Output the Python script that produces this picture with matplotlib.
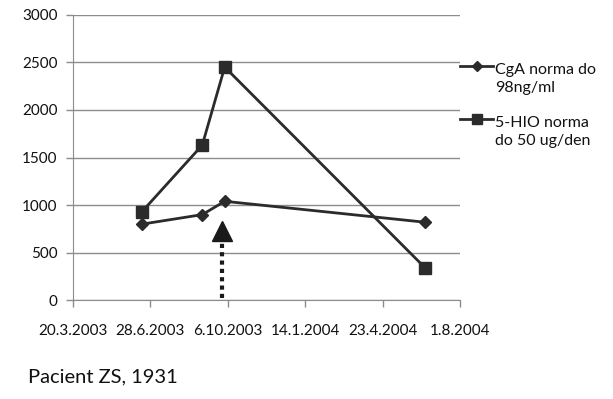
import matplotlib
matplotlib.use('Agg')
import matplotlib.pyplot as plt
from matplotlib.lines import Line2D
import pandas as pd

# Daten
datumy = pd.to_datetime(['2003-06-17', '2003-09-03', '2003-10-02', '2004-06-17'])
cga = [800, 900, 1040, 820]
hio = [930, 1630, 2450, 340]
labels = ['CgA norma do\n98ng/ml', '5-HIO norma\ndo 50 ug/den']

tick_dates = pd.to_datetime(['2003-03-20', '2003-06-28', '2003-10-06',
                             '2004-01-14', '2004-04-23', '2004-08-01'])
y_ticks = [0, 500, 1000, 1500, 2000, 2500, 3000]

# Pfeil (Therapiebeginn)
arrow_date = pd.to_datetime('2003-09-28')
arrow_base = 630
arrow_tip = 822

plt.rcParams['font.family'] = ['Lato', 'DejaVu Sans']

W, H = 613, 399
fig = plt.figure(figsize=(W/100, H/100), dpi=100)
ax = fig.add_axes([73/W, 1-300.3/H, (460-73)/W, (300.3-14.7)/H])

line_col = '#2b2b2b'
stil = [dict(marker='D', ms=6), dict(marker='s', ms=9)]
ax.plot(datumy, cga, color=line_col, lw=2.0, **stil[0])
ax.plot(datumy, hio, color=line_col, lw=2.0, **stil[1])

# Pfeil: gepunkteter Schaft + Dreieck
ax.plot([arrow_date, arrow_date], [20, arrow_base], color='#1a1a1a', lw=3, ls=(0, (1, 1)))
ax.plot([arrow_date], [(arrow_base + arrow_tip) / 2], marker='^', ms=14, color='#1a1a1a', mec='#1a1a1a')

ax.set_xlim(tick_dates[0], tick_dates[-1])
ax.set_ylim(0, 3000)
ax.set_xticks(tick_dates)
ax.set_xticklabels([f'{d.day}.{d.month}.{d.year}' for d in tick_dates])
ax.set_yticks(y_ticks)

ax.grid(axis='y', color='#8c8c8c', lw=1)
ax.set_axisbelow(True)
for s in ['top', 'right']:
    ax.spines[s].set_visible(False)
for s in ['left', 'bottom']:
    ax.spines[s].set_color('#8c8c8c')
ax.tick_params(axis='both', colors='#8c8c8c', labelcolor='#111111', labelsize=11, length=5, width=1)
ax.tick_params(axis='x', pad=12)
ax.tick_params(axis='y', pad=6)

# Legende von Hand (Symbol auf Höhe der ersten Textzeile, wie in Excel)
for i, (lab, st) in enumerate(zip(labels, stil)):
    y = 1 - (66 + i * 53) / H
    fig.add_artist(Line2D([460/W, 493/W], [y, y], color=line_col, lw=2.0, transform=fig.transFigure))
    fig.add_artist(Line2D([476.5/W], [y], color=line_col, transform=fig.transFigure,
                          marker=st['marker'], ms=st['ms'] * 0.8))
    fig.text(495/W, y + 3/H, lab, fontsize=11.5, va='top', ha='left', color='#111111', linespacing=1.35)

fig.text(28/W, 1-377/H, 'Pacient ZS, 1931', fontsize=14.5, va='center', ha='left', color='#111111')

fig.savefig('out.png', dpi=100)
